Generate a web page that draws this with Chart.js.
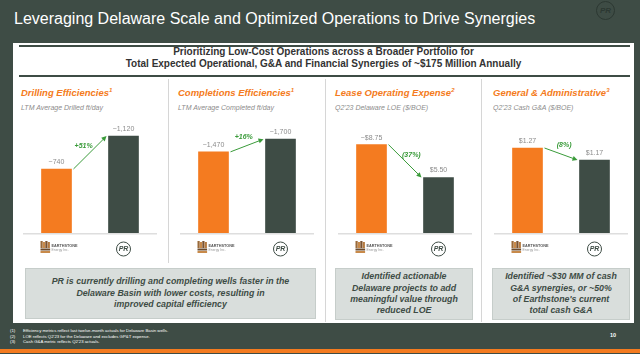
<!DOCTYPE html>
<html>
<head>
<meta charset="utf-8">
<script src="https://cdn.jsdelivr.net/npm/chart.js@4.4.0/dist/chart.umd.min.js"></script>
<style>
  body { margin: 0; width: 640px; height: 354px; background: #3e4c45; position: relative; overflow: hidden; font-family: "Liberation Sans", Arial, sans-serif; }
  .abs { position: absolute; }
  #title { left: 14px; top: 10px; color: #fff; font-size: 16px; white-space: nowrap; }
  #logo { left: 596px; top: 1px; width: 17px; height: 17px; border: 1px solid #2c3832; border-radius: 50%; color: #2c3832; font: italic bold 8px "Liberation Sans", Arial; text-align: center; line-height: 17px; }
  #panel { left: 13px; top: 43px; width: 621px; height: 280px; background: #fff; }
  .hline { position: absolute; left: 19px; width: 611px; height: 2px; background: #3e4c45; }
  #head { left: 13px; width: 621px; top: 46px; text-align: center; font-weight: bold; font-size: 10px; line-height: 12px; color: #333; white-space: nowrap; }
  .vsep { position: absolute; width: 1px; background: #d6d6d6; }
  .ctitle { color: #f47b20; font-weight: bold; font-style: italic; font-size: 9.5px; white-space: nowrap; }
  .ctitle sup { font-size: 6px; }
  .csub { color: #8c8c8c; font-style: italic; font-size: 7px; white-space: nowrap; }
  .box { background: #d9dedc; border: 1px solid #c6cdca; color: #3e4c45; font-weight: bold; font-style: italic; font-size: 8.8px; line-height: 11.4px; text-align: center; display: flex; align-items: center; justify-content: center; box-sizing: border-box; white-space: nowrap; }
  #notes { left: 10px; top: 328px; color: #fff; font-size: 4.3px; line-height: 5.5px; white-space: nowrap; }
  #notes span { display: inline-block; width: 13px; }
  #page { left: 610px; top: 332px; color: #fff; font-weight: bold; font-size: 5.5px; }
  #orange { left: 0; top: 349px; width: 640px; height: 3.5px; background: #f47b20; }
  canvas { position: absolute; }
</style>
</head>
<body>
<div id="title" class="abs">Leveraging Delaware Scale and Optimized Operations to Drive Synergies</div>
<div id="logo" class="abs">PR</div>
<div id="panel" class="abs"></div>
<div class="hline" style="top:45px"></div>
<div class="hline" style="top:75px"></div>
<div id="head" class="abs">Prioritizing Low-Cost Operations across a Broader Portfolio for<br>Total Expected Operational, G&amp;A and Financial Synergies of ~$175 Million Annually</div>
<div class="vsep" style="left:168px;top:79px;height:184px"></div>
<div class="vsep" style="left:325px;top:79px;height:243px"></div>
<div class="vsep" style="left:481px;top:79px;height:243px"></div>
<div id="titles"></div>
<div class="box abs" style="left:25px;top:268px;width:291px;height:51px">PR is currently drilling and completing wells faster in the<br>Delaware Basin with lower costs, resulting in<br>improved capital efficiency</div>
<div class="box abs" style="left:335px;top:268px;width:138px;height:52px">Identified actionable<br>Delaware projects to add<br>meaningful value through<br>reduced LOE</div>
<div class="box abs" style="left:492px;top:268px;width:138px;height:52px">Identified ~$30 MM of cash<br>G&amp;A synergies, or ~50%<br>of Earthstone's current<br>total cash G&amp;A</div>
<div id="notes" class="abs"><span>(1)</span>Efficiency metrics reflect last twelve-month actuals for Delaware Basin wells.<br><span>(2)</span>LOE reflects Q2'23 for the Delaware and excludes GP&amp;T expense.<br><span>(3)</span>Cash G&amp;A metric reflects Q2'23 actuals.</div>
<div id="page" class="abs">10</div>
<div id="orange" class="abs"></div>
<canvas id="c0" width="134" height="162" style="left:23px;top:100px"></canvas>
<canvas id="c1" width="134" height="162" style="left:180px;top:100px"></canvas>
<canvas id="c2" width="134" height="162" style="left:338px;top:100px"></canvas>
<canvas id="c3" width="134" height="162" style="left:494px;top:100px"></canvas>
<script>
const companies = ['Earthstone', 'PR'];
const chartTitles = ['Drilling Efficiencies', 'Completions Efficiencies', 'Lease Operating Expense', 'General & Administrative'];
const chartNotes = ['1', '1', '2', '3'];
const chartSubtitles = ['LTM Average Drilled ft/day', 'LTM Average Completed ft/day', "Q2'23 Delaware LOE ($/BOE)", "Q2'23 Cash G&A ($/BOE)"];
const drilling = [740, 1120];
const completions = [1470, 1700];
const loe = [8.75, 5.50];
const gna = [1.27, 1.17];
const valueLabels = [['~740', '~1,120'], ['~1,470', '~1,700'], ['~$8.75', '$5.50'], ['$1.27', '$1.17']];
const changeLabels = ['+51%', '+16%', '(37%)', '(8%)'];
const axisMin = [0, 0, 0, 0.562];
const axisMax = [1537, 2409, 13.17, 1.67];

const FONT = '"Liberation Sans", Arial, sans-serif';
const ORANGE = '#f47b20';
const DARK = '#3e4c45';
const GREEN = '#3a9b3a';

// chart headings
const titleLefts = [21, 178, 335, 493];
const holder = document.getElementById('titles');
chartTitles.forEach((t, i) => {
  const h = document.createElement('div');
  h.className = 'ctitle abs';
  h.style.left = titleLefts[i] + 'px';
  h.style.top = '87px';
  h.innerHTML = t.replace('&', '&amp;') + '<sup>' + chartNotes[i] + '</sup>';
  holder.appendChild(h);
  const s = document.createElement('div');
  s.className = 'csub abs';
  s.style.left = titleLefts[i] + 'px';
  s.style.top = '104px';
  s.textContent = chartSubtitles[i];
  holder.appendChild(s);
});

function drawEarthstone(ctx, x, y) {
  const cols = ['#9a6a3a', '#c88a4a', '#7a5230', '#b57a40'];
  for (let k = 0; k < 4; k++) {
    ctx.fillStyle = cols[k];
    ctx.fillRect(x - 16 + k * 2.4, y - 6 + (k % 2), 2.2, 7 - (k % 2));
  }
  ctx.fillStyle = '#6b4a2c';
  ctx.fillRect(x - 16, y + 1.5, 9.6, 2);
  ctx.fillStyle = '#c88a4a';
  ctx.fillRect(x - 16, y + 4, 9.6, 2);
  ctx.fillStyle = '#555';
  ctx.font = 'bold 3.8px ' + FONT;
  ctx.textAlign = 'left';
  ctx.textBaseline = 'middle';
  ctx.fillText('EARTHSTONE', x - 5, y - 1);
  ctx.fillStyle = '#999';
  ctx.font = '3.4px ' + FONT;
  ctx.fillText('Energy Inc.', x - 5, y + 3);
}

function drawPR(ctx, x, y) {
  ctx.beginPath();
  ctx.arc(x, y, 7, 0, Math.PI * 2);
  ctx.fillStyle = '#fff';
  ctx.fill();
  ctx.strokeStyle = DARK;
  ctx.lineWidth = 1;
  ctx.stroke();
  ctx.fillStyle = DARK;
  ctx.font = 'italic bold 7px ' + FONT;
  ctx.textAlign = 'center';
  ctx.textBaseline = 'middle';
  ctx.fillText('PR', x, y + 0.5);
}

const overlay = {
  id: 'overlay',
  beforeDatasetsDraw(chart) {
    const { ctx, chartArea: a } = chart;
    ctx.save();
    ctx.strokeStyle = '#dedede';
    ctx.lineWidth = 1.5;
    ctx.beginPath();
    ctx.moveTo(a.left, a.bottom + 0.75);
    ctx.lineTo(a.right, a.bottom + 0.75);
    ctx.stroke();
    ctx.restore();
  },
  afterDatasetsDraw(chart, args, opts) {
    const { ctx, chartArea: a } = chart;
    const bars = chart.getDatasetMeta(0).data;
    ctx.save();
    // value labels
    ctx.font = '7px ' + FONT;
    ctx.fillStyle = '#8c8c8c';
    ctx.textAlign = 'center';
    ctx.textBaseline = 'middle';
    bars.forEach((b, i) => ctx.fillText(opts.labels[i], b.x, b.y - 7));
    // change arrow
    const b0 = bars[0], b1 = bars[1];
    const x0 = b0.x + b0.width / 2 + 2, y0 = b0.y;
    const x1 = b1.x - b1.width / 2 - 2, y1 = b1.y;
    const len = Math.hypot(x1 - x0, y1 - y0);
    const dx = (x1 - x0) / len, dy = (y1 - y0) / len;
    ctx.strokeStyle = GREEN;
    ctx.fillStyle = GREEN;
    ctx.lineWidth = 1;
    ctx.beginPath();
    ctx.moveTo(x0, y0);
    ctx.lineTo(x1 - dx * 4, y1 - dy * 4);
    ctx.stroke();
    ctx.beginPath();
    ctx.moveTo(x1, y1);
    ctx.lineTo(x1 - dx * 5 - dy * 2.5, y1 - dy * 5 + dx * 2.5);
    ctx.lineTo(x1 - dx * 5 + dy * 2.5, y1 - dy * 5 - dx * 2.5);
    ctx.closePath();
    ctx.fill();
    ctx.font = 'italic bold 7px ' + FONT;
    const mx = (x0 + x1) / 2 + dy * 9, my = (y0 + y1) / 2 - dx * 9;
    ctx.fillText(opts.change, mx, my);
    // company logos under the baseline
    drawEarthstone(ctx, b0.x, a.bottom + 14);
    drawPR(ctx, b1.x, a.bottom + 16);
    ctx.restore();
  }
};

const series = [drilling, completions, loe, gna];
series.forEach((vals, i) => {
  new Chart(document.getElementById('c' + i), {
    type: 'bar',
    data: {
      labels: companies,
      datasets: [{
        data: vals,
        backgroundColor: [ORANGE, DARK],
        borderWidth: 0,
        barThickness: 30
      }]
    },
    options: {
      responsive: false,
      animation: false,
      layout: { padding: { top: 0, bottom: 29, left: 0, right: 0 } },
      scales: {
        x: { display: false },
        y: { display: false, min: axisMin[i], max: axisMax[i] }
      },
      plugins: {
        legend: { display: false },
        tooltip: { enabled: false },
        overlay: { labels: valueLabels[i], change: changeLabels[i] }
      }
    },
    plugins: [overlay]
  });
});
</script>
</body>
</html>
